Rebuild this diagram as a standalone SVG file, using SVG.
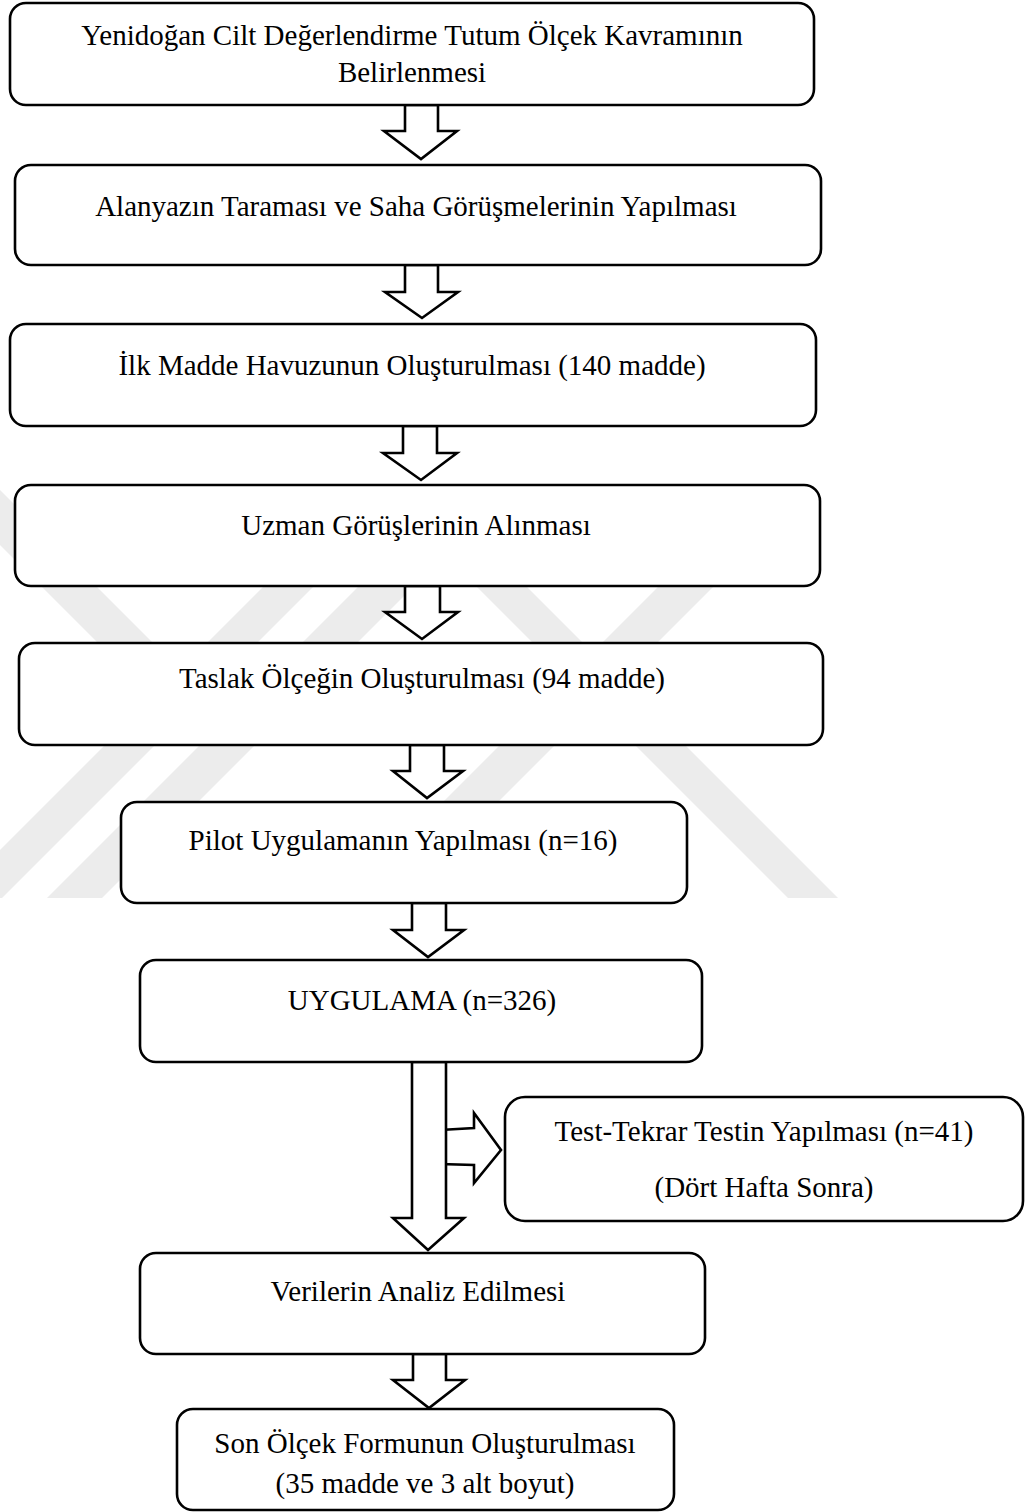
<svg xmlns="http://www.w3.org/2000/svg" width="1035" height="1512" viewBox="0 0 1035 1512">
  <style>
    .box { fill: #ffffff; stroke: #000000; stroke-width: 2.6; }
    .arrow { fill: #ffffff; stroke: #000000; stroke-width: 2.6; stroke-linejoin: miter; }
    .lbl { font-family: "Liberation Serif", "Times New Roman", serif; font-size: 29px; fill: #000000; text-anchor: middle; }
    .mark { fill: #ececec; }
  </style>
  <rect x="0" y="0" width="1035" height="1512" fill="#ffffff"/>

  <!-- faint background emblem: diagonal grey bands behind the boxes -->
  <g id="watermark">
    <polygon class="mark" points="360,490 410,490 2,898 -48,898"/>
    <polygon class="mark" points="455,490 510,490 102,898 47,898"/>
    <polygon class="mark" points="755,490 810,490 402,898 347,898"/>
    <polygon class="mark" points="380,490 430,490 838,898 788,898"/>
    <polygon class="mark" points="-55,490 0,490 210,700 155,700"/>
  </g>

  <!-- block arrows between the steps -->
  <g id="connectors">
    <polygon class="arrow" points="405,105 438,105 438,131 457,131 421,159 384,131 405,131"/>
    <polygon class="arrow" points="405,265 438,265 438,292 458,292 422,318 385,292 405,292"/>
    <polygon class="arrow" points="403,426 437,426 437,453 457,453 421,480 383,453 403,453"/>
    <polygon class="arrow" points="405,586 440,586 440,612 458,612 422,639 385,612 405,612"/>
    <polygon class="arrow" points="410,745 444,745 444,771 463,771 427,798 393,771 410,771"/>
    <polygon class="arrow" points="412,903 446,903 446,930 464,930 428,957 393,930 412,930"/>
    <!-- side branch to the retest step -->
    <polygon class="arrow" points="440,1130 474,1128 474,1113 501,1150 474,1183 474,1165 440,1164"/>
    <polygon class="arrow" points="412,1062 446,1062 446,1218 464,1218 428,1250 393,1218 412,1218"/>
    <polygon class="arrow" points="413,1354 446,1354 446,1380 465,1380 429,1408 393,1380 413,1380"/>
  </g>

  <g id="n1">
    <rect class="box" x="10" y="3" width="804" height="102" rx="16"/>
    <text class="lbl" x="412" y="45">Yenidoğan Cilt Değerlendirme Tutum Ölçek Kavramının</text>
    <text class="lbl" x="412" y="82">Belirlenmesi</text>
  </g>
  <g id="n2">
    <rect class="box" x="15" y="165" width="806" height="100" rx="16"/>
    <text class="lbl" x="416" y="216">Alanyazın Taraması ve Saha Görüşmelerinin Yapılması</text>
  </g>
  <g id="n3">
    <rect class="box" x="10" y="324" width="806" height="102" rx="16"/>
    <text class="lbl" x="412" y="375">İlk Madde Havuzunun Oluşturulması (140 madde)</text>
  </g>
  <g id="n4">
    <rect class="box" x="15" y="485" width="805" height="101" rx="16"/>
    <text class="lbl" x="416" y="535">Uzman Görüşlerinin Alınması</text>
  </g>
  <g id="n5">
    <rect class="box" x="19" y="643" width="804" height="102" rx="16"/>
    <text class="lbl" x="422" y="688">Taslak Ölçeğin Oluşturulması (94 madde)</text>
  </g>
  <g id="n6">
    <rect class="box" x="121" y="802" width="566" height="101" rx="16"/>
    <text class="lbl" x="403" y="850">Pilot Uygulamanın Yapılması (n=16)</text>
  </g>
  <g id="n7">
    <rect class="box" x="140" y="960" width="562" height="102" rx="16"/>
    <text class="lbl" x="422" y="1010">UYGULAMA (n=326)</text>
  </g>
  <g id="n8">
    <rect class="box" x="505" y="1097" width="518" height="124" rx="20"/>
    <text class="lbl" x="764" y="1141">Test-Tekrar Testin Yapılması (n=41)</text>
    <text class="lbl" x="764" y="1197">(Dört Hafta Sonra)</text>
  </g>
  <g id="n9">
    <rect class="box" x="140" y="1253" width="565" height="101" rx="16"/>
    <text class="lbl" x="418" y="1301">Verilerin Analiz Edilmesi</text>
  </g>
  <g id="n10">
    <rect class="box" x="177" y="1409" width="497" height="101" rx="16"/>
    <text class="lbl" x="425" y="1453">Son Ölçek Formunun Oluşturulması</text>
    <text class="lbl" x="425" y="1493">(35 madde ve 3 alt boyut)</text>
  </g>
</svg>
